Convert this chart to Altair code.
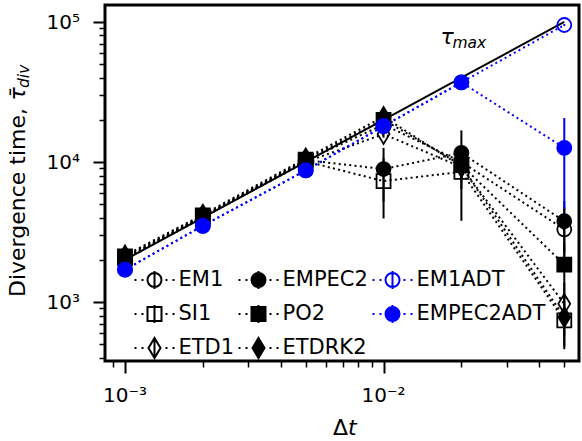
import altair as alt
import pandas as pd

# ---------------- data ----------------
dt = [0.001, 0.002, 0.005, 0.01, 0.02, 0.05]
tau_max = [2000, 4000, 10000, 20000, 40000, 100000]

series = ["EM1", "SI1", "ETD1", "EMPEC2", "PO2", "ETDRK2", "EM1ADT", "EMPEC2ADT"]

em1 = [2060, 4060, 10200, 18500, 10000, 3300]
em1_err = [40, 80, 200, 1000, 1800, 1500]
si1 = [2050, 4050, 10100, 7300, 8500, 740]
si1_err = [40, 80, 200, 3350, 4700, 280]
etd1 = [2020, 4020, 10000, 15800, 9200, 970]
etd1_err = [40, 80, 200, 900, 1800, 400]
empec2 = [2080, 4100, 10300, 8900, 11600, 3770]
empec2_err = [40, 80, 200, 3700, 5200, 1500]
po2 = [2120, 4150, 10400, 20000, 9500, 1850]
po2_err = [40, 80, 200, 800, 1800, 800]
etdrk2 = [2150, 4200, 10600, 21000, 9300, 780]
etdrk2_err = [40, 80, 200, 800, 1800, 300]
em1adt = [1700, 3500, 8700, 18000, 37000, 95000]
em1adt_err = [30, 60, 150, 300, 600, 1500]
empec2adt = [1700, 3500, 8700, 18000, 37000, 12600]
empec2adt_err = [30, 60, 150, 400, 800, 8000]

values = {"EM1": em1, "SI1": si1, "ETD1": etd1, "EMPEC2": empec2, "PO2": po2,
          "ETDRK2": etdrk2, "EM1ADT": em1adt, "EMPEC2ADT": empec2adt}
errors = {"EM1": em1_err, "SI1": si1_err, "ETD1": etd1_err, "EMPEC2": empec2_err,
          "PO2": po2_err, "ETDRK2": etdrk2_err, "EM1ADT": em1adt_err,
          "EMPEC2ADT": empec2adt_err}

tau_label_dt = [0.0166]
tau_label_val = [70000]

x_major = [0.001, 0.01]
x_major_labels = ["10⁻³", "10⁻²"]
y_major = [1000, 10000, 100000]
y_major_labels = ["10³", "10⁴", "10⁵"]

# ---------------- styles ----------------
BLUE = "#0000ff"
stroke_of = {s: "black" for s in series}
stroke_of.update({"EM1ADT": BLUE, "EMPEC2ADT": BLUE})
fill_of = {"EM1": "transparent", "SI1": "transparent", "ETD1": "transparent",
           "EMPEC2": "black", "PO2": "black", "ETDRK2": "black",
           "EM1ADT": "transparent", "EMPEC2ADT": BLUE}
THIN_D = "M0,-1.414L0.849,0L0,1.414L-0.849,0Z"
shape_of = {"EM1": "circle", "SI1": "square", "ETD1": THIN_D, "EMPEC2": "circle",
            "PO2": "square", "ETDRK2": THIN_D, "EM1ADT": "circle", "EMPEC2ADT": "circle"}

# legend handle paths (unit = 20 px): marker + errorbar + dotted line
DOTS = "M-1,0L-0.9,0M-0.65,0L-0.55,0M0.55,0L0.65,0M0.9,0L1,0"
BAR = "M0,-0.45L0,0.45"
CIRC = "M0.35,0A0.35,0.35,0,1,1,-0.35,0A0.35,0.35,0,1,1,0.35,0Z"
SQR = "M-0.35,-0.35L0.35,-0.35L0.35,0.35L-0.35,0.35Z"
DIAM = "M0,-0.5L0.3,0L0,0.5L-0.3,0Z"
lg_marker = {"circle": CIRC, "square": SQR, THIN_D: DIAM}
lg_shape = {s: lg_marker[shape_of[s]] + BAR + DOTS for s in series}

# ---------------- tables ----------------
rows = []
for s in series:
    for d, v, e in zip(dt, values[s], errors[s]):
        rows.append({"series": s, "dt": d, "tau": v, "lo": v - e, "hi": v + e})
df = pd.DataFrame(rows)
df_max = pd.DataFrame({"dt": dt, "tau": tau_max})
df_lab = pd.DataFrame({"dt": tau_label_dt, "tau": tau_label_val})
df_xlab = pd.DataFrame({"dt": x_major, "label": x_major_labels})
df_ylab = pd.DataFrame({"tau": y_major, "label": y_major_labels})

x_ticks = [round(k * 1e-4, 6) for k in [9]] + [round(k * 1e-3, 6) for k in range(1, 10)] + \
          [round(k * 1e-2, 6) for k in range(1, 6)]
y_ticks = [k * 100 for k in range(4, 10)] + [k * 1000 for k in range(1, 10)] + \
          [k * 10000 for k in range(1, 10)] + [100000]

x_test = " || ".join(f"datum.value == {v}" for v in x_major)
y_test = " || ".join(f"datum.value == {v}" for v in y_major)

xaxis = alt.Axis(values=x_ticks, title=None, grid=False, domain=False, labels=False,
                 tickSize={"condition": {"test": x_test, "value": 12}, "value": 6},
                 tickWidth={"condition": {"test": x_test, "value": 2}, "value": 1.5})
yaxis = alt.Axis(values=y_ticks, title=None, grid=False, domain=False, labels=False,
                 tickSize={"condition": {"test": y_test, "value": 12}, "value": 6},
                 tickWidth={"condition": {"test": y_test, "value": 2}, "value": 1.5})
xscale = alt.Scale(type="log", domain=[8.37e-4, 0.057], nice=False)
yscale = alt.Scale(type="log", domain=[379, 132000], nice=False)

X = alt.X("dt:Q", scale=xscale, axis=xaxis)
Y = alt.Y("tau:Q", scale=yscale, axis=yaxis)

layers = []
layers.append(alt.Chart(df_max).mark_line(color="black", strokeWidth=2).encode(x=X, y=Y))
for s in series:
    base = alt.Chart(df).transform_filter(alt.datum.series == s)
    layers.append(base.mark_line(color=stroke_of[s], strokeWidth=2, strokeDash=[2, 3.3])
                  .encode(x=X, y=Y))
    layers.append(base.mark_rule(color=stroke_of[s], strokeWidth=2)
                  .encode(x=X, y=alt.Y("lo:Q", scale=yscale, axis=yaxis), y2="hi:Q"))
    layers.append(base.mark_point(filled=True, opacity=1, size=196, strokeWidth=1.8,
                                  shape=shape_of[s], fill=fill_of[s], stroke=stroke_of[s])
                  .encode(x=X, y=Y))

# legend layer (invisible marks, visible legend); column-major, 3 rows
leg = alt.Legend(title=None, orient="none", legendX=28.5, legendY=254, columns=3,
                 gridAlign="each", symbolSize=1600, symbolStrokeWidth=2, symbolOpacity=1,
                 labelFont="DejaVu Sans", labelFontSize=21, labelColor="black",
                 labelOffset=3, rowPadding=-2, columnPadding=0, padding=0, labelLimit=300)
layers.append(alt.Chart(df).mark_point(filled=True, opacity=0, size=1600).encode(
    x=X, y=Y,
    shape=alt.Shape("series:N", scale=alt.Scale(domain=series, range=[lg_shape[s] for s in series]), legend=leg),
    fill=alt.Fill("series:N", scale=alt.Scale(domain=series, range=[fill_of[s] for s in series]), legend=leg),
    stroke=alt.Stroke("series:N", scale=alt.Scale(domain=series, range=[stroke_of[s] for s in series]), legend=leg),
))

# tick labels
layers.append(alt.Chart(df_xlab).mark_text(font="DejaVu Sans", fontSize=20, align="center",
                                           baseline="alphabetic", color="black")
              .encode(x=X, y=alt.value(397.3), text="label:N"))
layers.append(alt.Chart(df_ylab).mark_text(font="DejaVu Sans", fontSize=20, align="right",
                                           baseline="alphabetic", dy=7.3, color="black")
              .encode(y=Y, x=alt.value(-25), text="label:N"))

# tau_max annotation
layers.append(alt.Chart(df_lab).mark_text(text="τ", font="DejaVu Sans", fontSize=22, fontStyle="italic",
                                          align="left", baseline="alphabetic", color="black").encode(x=X, y=Y))
layers.append(alt.Chart(df_lab).mark_text(text="max", font="DejaVu Sans", fontSize=15.5, fontStyle="italic",
                                          align="left", baseline="alphabetic", dx=12, dy=4, color="black").encode(x=X, y=Y))

one = pd.DataFrame({"a": [0]})
# y axis title
layers.append(alt.Chart(one).mark_text(text="Divergence time, ", font="DejaVu Sans", fontSize=22, angle=270,
                                       align="left", baseline="alphabetic", color="black")
              .encode(x=alt.value(-80.5), y=alt.value(292)))
layers.append(alt.Chart(one).mark_text(text="τ\u0304", font="DejaVu Sans", fontSize=22, angle=270, fontStyle="italic",
                                       align="left", baseline="alphabetic", color="black")
              .encode(x=alt.value(-80.5), y=alt.value(95.6)))
layers.append(alt.Chart(one).mark_text(text="div", font="DejaVu Sans", fontSize=15.5, angle=270, fontStyle="italic",
                                       align="left", baseline="alphabetic", dy=4, color="black")
              .encode(x=alt.value(-80.5), y=alt.value(83)))
# x axis title
layers.append(alt.Chart(one).mark_text(text="Δ", font="DejaVu Sans", fontSize=22,
                                       align="left", baseline="alphabetic", color="black")
              .encode(x=alt.value(228), y=alt.value(430)))
layers.append(alt.Chart(one).mark_text(text="t", font="DejaVu Sans", fontSize=22, fontStyle="italic",
                                       align="left", baseline="alphabetic", color="black")
              .encode(x=alt.value(243), y=alt.value(430)))

chart = alt.layer(*layers).properties(
    width=474, height=356,
    autosize=alt.AutoSizeParams(type="none"),
    padding={"left": 105, "top": 5, "right": 3, "bottom": 80},
).configure_view(stroke="black", strokeWidth=3).configure_axis(tickColor="black")

chart.save("out.html", embed_options={"renderer": "svg", "actions": False})
